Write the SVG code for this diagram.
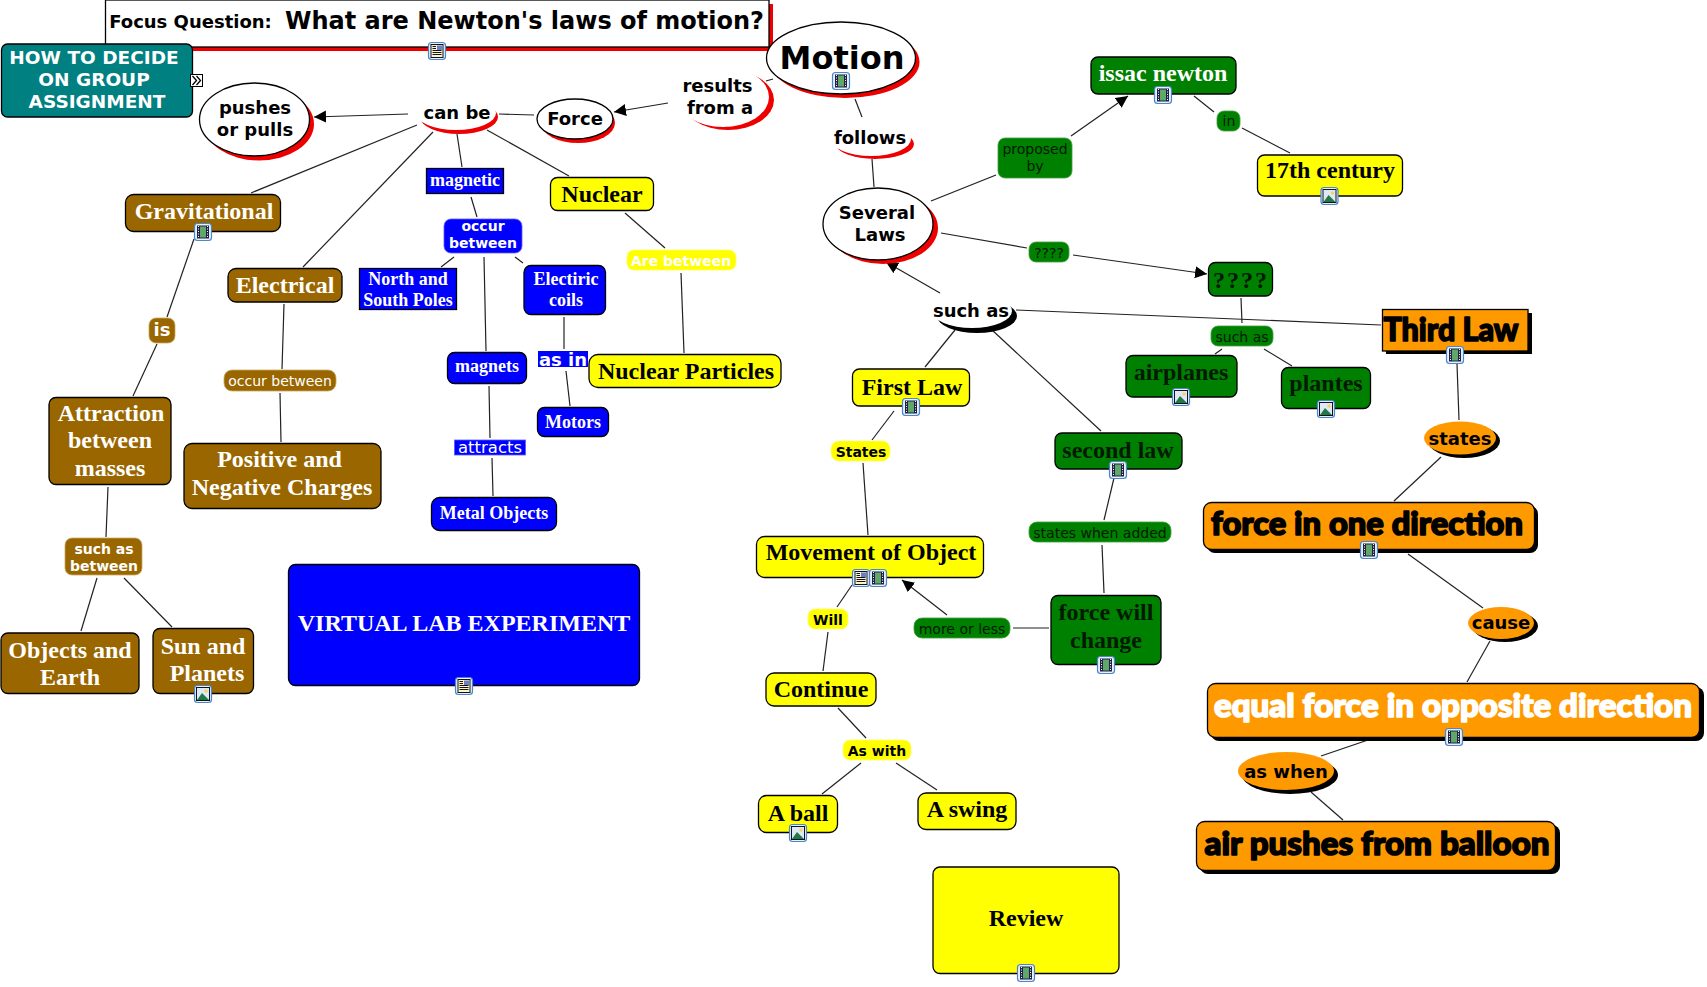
<svg xmlns="http://www.w3.org/2000/svg" width="1707" height="987" viewBox="0 0 1707 987">
<style>
text{text-anchor:middle}
.se{font-family:"Liberation Serif","Times New Roman",serif;font-weight:700}
.sa{font-family:"DejaVu Sans",sans-serif;font-weight:700}
.re{font-family:"DejaVu Sans",sans-serif;font-weight:400}
.fat{font-family:"Lato","DejaVu Sans",sans-serif;font-weight:900;stroke-width:1.6px;stroke-linejoin:round}
.w{fill:#fff}.k{fill:#000}
.dg{fill:#001a00}
.wf{stroke:#fff}.kf{stroke:#000}
.b{stroke:#000;stroke-width:1.3}
.brown{fill:#996600}.green{fill:#008000}.blue{fill:#0000ff}.yellow{fill:#ffff00}.orange{fill:#ff9900}.teal{fill:#008080}
.red{fill:#ee0000}.blk{fill:#000}.white{fill:#fff}
#connectors line{stroke:#222;stroke-width:1.2;fill:none}
.lb{stroke:#c9a860;stroke-width:.8}.lg{stroke:#3fa03f;stroke-width:.8}.ly{stroke:#ffff66;stroke-width:.8}.lbl{stroke:#5a5aff;stroke-width:.8}
</style>
<defs>
<marker id="arr" markerUnits="userSpaceOnUse" markerWidth="14" markerHeight="14" refX="12" refY="6" orient="auto"><path d="M0 0L12 6L0 12z" fill="#000"/></marker>
<g id="frame"><rect x="-8.500" y="-8.500" width="17" height="17" rx="3" fill="#e8f0fa" stroke="#4a86c8" stroke-width="1.200"/></g>
<g id="film"><use href="#frame"/><rect x="-6" y="-6.500" width="12" height="13" fill="#20204a"/><rect x="-3" y="-5.500" width="6" height="11" fill="#5fa868"/><path d="M-4.500 -6v12M4.500 -6v12" stroke="#fff" stroke-width="1" stroke-dasharray="1 1.500"/></g>
<g id="pic"><use href="#frame"/><rect x="-6.500" y="-6.500" width="13" height="13" fill="#dfe9f5" stroke="#112" stroke-width="1"/><circle cx="3" cy="-3" r="1.800" fill="#f4d35e"/><path d="M-6 6L-1 -1L6 6z" fill="#1f7a45"/></g>
<g id="doc"><use href="#frame"/><rect x="-6" y="-6.500" width="12" height="13" fill="#fff6c8" stroke="#112" stroke-width="1"/><rect x="0" y="-5.500" width="5" height="4.500" fill="#6a7fc8"/><path d="M-4.500 -4.500h3.500M-4.500 -2.500h3.500M-4.500 -.5h9M-4.500 1.500h9M-4.500 3.500h9" stroke="#112" stroke-width="1"/></g>
</defs>
<rect width="1707" height="987" fill="#fff"/>

<g id="connectors">
<line x1="408" y1="114" x2="314" y2="117" marker-end="url(#arr)"/>
<line x1="534" y1="115" x2="499" y2="114"/>
<line x1="668" y1="103" x2="614" y2="112" marker-end="url(#arr)"/>
<line x1="773" y1="79" x2="766" y2="81"/>
<line x1="855" y1="99" x2="862" y2="117"/>
<line x1="872" y1="159" x2="874" y2="187"/>
<line x1="931" y1="201" x2="996" y2="175"/>
<line x1="1071" y1="136" x2="1128" y2="96" marker-end="url(#arr)"/>
<line x1="1194" y1="96" x2="1214" y2="112"/>
<line x1="1242" y1="128" x2="1290" y2="153"/>
<line x1="941" y1="233" x2="1027" y2="248"/>
<line x1="1073" y1="255" x2="1207" y2="274" marker-end="url(#arr)"/>
<line x1="940" y1="293" x2="886" y2="262" marker-end="url(#arr)"/>
<line x1="1016" y1="310" x2="1381" y2="325"/>
<line x1="1241" y1="298" x2="1242" y2="323"/>
<line x1="1222" y1="349" x2="1215" y2="354"/>
<line x1="1264" y1="349" x2="1292" y2="366"/>
<line x1="1457" y1="364" x2="1459" y2="420"/>
<line x1="1441" y1="457" x2="1394" y2="501"/>
<line x1="1408" y1="554" x2="1483" y2="608"/>
<line x1="1490" y1="641" x2="1467" y2="682"/>
<line x1="1368" y1="740" x2="1321" y2="756"/>
<line x1="1311" y1="792" x2="1343" y2="820"/>
<line x1="417" y1="125" x2="251" y2="193"/>
<line x1="433" y1="132" x2="303" y2="267"/>
<line x1="457" y1="134" x2="462" y2="167"/>
<line x1="487" y1="130" x2="569" y2="176"/>
<line x1="471" y1="197" x2="477" y2="217"/>
<line x1="454" y1="257" x2="441" y2="267"/>
<line x1="515" y1="257" x2="523" y2="263"/>
<line x1="484" y1="257" x2="486" y2="351"/>
<line x1="564" y1="317" x2="564" y2="349"/>
<line x1="566" y1="371" x2="570" y2="406"/>
<line x1="489" y1="386" x2="490" y2="438"/>
<line x1="492" y1="458" x2="493" y2="496"/>
<line x1="625" y1="213" x2="665" y2="248"/>
<line x1="681" y1="273" x2="684" y2="353"/>
<line x1="194" y1="239" x2="167" y2="317"/>
<line x1="157" y1="344" x2="133" y2="396"/>
<line x1="284" y1="304" x2="282" y2="369"/>
<line x1="280" y1="393" x2="281" y2="442"/>
<line x1="108" y1="487" x2="106" y2="537"/>
<line x1="97" y1="578" x2="81" y2="631"/>
<line x1="124" y1="578" x2="172" y2="627"/>
<line x1="955" y1="330" x2="925" y2="367"/>
<line x1="992" y1="330" x2="1101" y2="431"/>
<line x1="894" y1="411" x2="872" y2="440"/>
<line x1="863" y1="463" x2="868" y2="535"/>
<line x1="852" y1="585" x2="837" y2="607"/>
<line x1="828" y1="632" x2="823" y2="671"/>
<line x1="838" y1="708" x2="866" y2="738"/>
<line x1="861" y1="763" x2="822" y2="794"/>
<line x1="896" y1="763" x2="937" y2="790"/>
<line x1="1049" y1="628" x2="1013" y2="628"/>
<line x1="947" y1="615" x2="902" y2="580" marker-end="url(#arr)"/>
<line x1="1114" y1="478" x2="1104" y2="520"/>
<line x1="1102" y1="545" x2="1104" y2="593"/>
</g>

<g id="focus"><rect x="109" y="4" width="664" height="47" class="red"/><rect x="105.500" y="0" width="663.500" height="47" class="white b"/><text x="190.500" y="28" class="sa" font-size="18">Focus Question:</text><text x="524.500" y="29" class="sa" font-size="24">What are Newton's laws of motion?</text><use href="#doc" x="437" y="51"/></g>
<g id="group-assignment"><rect x="1.500" y="44" width="191" height="73" rx="6" class="teal b"/><g class="sa w" font-size="18.500"><text x="94" y="64">HOW TO DECIDE</text><text x="94" y="86">ON GROUP</text><text x="97" y="108">ASSIGNMENT</text></g><rect x="190.500" y="74.500" width="12" height="12" class="white" stroke="#000"/><path d="M192.500 76l4 4.500l-4 4.500M196.500 76l4 4.500l-4 4.500" fill="none" stroke="#000" stroke-width="1.300"/></g>
<g id="results"><ellipse cx="728" cy="100" rx="46" ry="30" class="red"/><ellipse cx="723" cy="97" rx="46" ry="30" class="white"/><text x="717.500" y="92" class="sa k" font-size="18">results</text><text x="720" y="114" class="sa k" font-size="18">from a</text></g>
<g id="motion"><ellipse cx="845" cy="62" rx="74.500" ry="36" class="red"/><ellipse cx="841" cy="58" rx="74.500" ry="36" class="white b"/><text x="842" y="68.500" class="sa k" font-size="32">Motion</text><use href="#film" x="841" y="81"/></g>
<g id="pushes"><ellipse cx="259" cy="124" rx="55" ry="36.500" class="red"/><ellipse cx="254.500" cy="119.500" rx="55" ry="36.500" class="white b"/><text x="255" y="114" class="sa k" font-size="18">pushes</text><text x="255" y="136" class="sa k" font-size="18">or pulls</text></g>
<g id="canbe"><ellipse cx="459" cy="117" rx="39" ry="17" class="red"/><ellipse cx="456" cy="113" rx="40" ry="17" class="white"/><text x="457" y="119" class="sa k" font-size="18">can be</text></g>
<g id="force"><ellipse cx="578" cy="123" rx="37" ry="20" class="red"/><ellipse cx="575" cy="119" rx="38" ry="20" class="white b"/><text x="575" y="125" class="sa k" font-size="18">Force</text></g>
<g id="follows"><ellipse cx="875" cy="144" rx="39" ry="15" class="red"/><ellipse cx="871" cy="139" rx="40" ry="17" class="white"/><text x="870" y="144" class="sa k" font-size="18">follows</text></g>
<g id="several"><ellipse cx="883" cy="228" rx="55" ry="36" class="red"/><ellipse cx="878" cy="224" rx="55" ry="36" class="white b"/><text x="877" y="219" class="sa k" font-size="18">Several</text><text x="880" y="241" class="sa k" font-size="18">Laws</text></g>
<g id="suchas"><ellipse cx="977" cy="316" rx="40" ry="17" class="blk"/><ellipse cx="972" cy="311" rx="40" ry="17" class="white"/><text x="971" y="317" class="sa k" font-size="18">such as</text></g>

<g id="gravitational"><rect x="125.500" y="194.500" width="155" height="37" rx="8" class="brown b"/><text x="204" y="219" class="se w" font-size="24">Gravitational</text><use href="#film" x="203" y="232"/></g>
<g id="electrical"><rect x="228" y="268.500" width="114" height="33.500" rx="8" class="brown b"/><text x="285" y="293" class="se w" font-size="24">Electrical</text></g>
<g id="is"><rect x="149" y="318" width="26" height="25" rx="7" class="brown lb"/><text x="162" y="336" class="sa w" font-size="18">is</text></g>
<g id="attraction"><rect x="49" y="397.500" width="122" height="87" rx="7" class="brown b"/><g class="se w" font-size="24"><text x="111" y="421">Attraction</text><text x="110" y="448">between</text><text x="110" y="476">masses</text></g></g>
<g id="occur-b"><rect x="224" y="370" width="112" height="21" rx="8" class="brown lb"/><text x="280" y="386" class="re w" font-size="14">occur between</text></g>
<g id="positive"><rect x="184" y="443.500" width="197" height="65" rx="8" class="brown b"/><g class="se w" font-size="24"><text x="279.500" y="467">Positive and</text><text x="282" y="495">Negative Charges</text></g></g>
<g id="suchbetween"><rect x="65" y="538" width="77" height="37" rx="7" class="brown lb"/><g class="sa w" font-size="14"><text x="104" y="554">such as</text><text x="104" y="571">between</text></g></g>
<g id="objects"><rect x="1" y="633" width="138" height="60.500" rx="7" class="brown b"/><g class="se w" font-size="24"><text x="70" y="658">Objects and</text><text x="70" y="685">Earth</text></g></g>
<g id="sun"><rect x="153" y="628.500" width="100.500" height="65" rx="7" class="brown b"/><g class="se w" font-size="24"><text x="203" y="654">Sun and</text><text x="207" y="681">Planets</text></g><use href="#pic" x="203" y="694"/></g>

<g id="magnetic"><rect x="426.500" y="168.500" width="77" height="25" class="blue b"/><text x="465" y="186" class="se w" font-size="18">magnetic</text></g>
<g id="occur-m"><rect x="444" y="219" width="78" height="34" rx="7" class="blue lbl"/><g class="sa w" font-size="14"><text x="483" y="231">occur</text><text x="483" y="248">between</text></g></g>
<g id="north"><rect x="359.500" y="268.500" width="97" height="41" class="blue b"/><g class="se w" font-size="18"><text x="408" y="285">North and</text><text x="408" y="306">South Poles</text></g></g>
<g id="coils"><rect x="524" y="265.500" width="81.500" height="49" rx="7" class="blue b"/><g class="se w" font-size="18"><text x="566" y="285">Electiric</text><text x="566" y="306">coils</text></g></g>
<g id="magnets"><rect x="447.500" y="352.500" width="79" height="31" rx="7" class="blue b"/><text x="487" y="372" class="se w" font-size="18">magnets</text></g>
<g id="asin"><rect x="538" y="351" width="50" height="16" class="blue"/><text x="563" y="366" class="sa w" font-size="18">as in</text></g>
<g id="motors"><rect x="537.500" y="407.500" width="71" height="29" rx="7" class="blue b"/><text x="573" y="428" class="se w" font-size="18">Motors</text></g>
<g id="attracts"><rect x="454.500" y="440" width="71" height="15" class="blue lbl"/><text x="490" y="453" class="re w" font-size="16.500">attracts</text></g>
<g id="metal"><rect x="431.500" y="497.500" width="125" height="33" rx="8" class="blue b"/><text x="494" y="519" class="se w" font-size="18">Metal Objects</text></g>
<g id="virtual"><rect x="288.500" y="564.500" width="351" height="121" rx="7" class="blue b"/><text x="464" y="631" class="se w" font-size="24">VIRTUAL LAB EXPERIMENT</text><use href="#doc" x="464" y="686"/></g>

<g id="nuclear"><rect x="550.500" y="177.500" width="103" height="33" rx="7" class="yellow b"/><text x="602" y="202" class="se k" font-size="24">Nuclear</text></g>
<g id="between-n"><rect x="627" y="250" width="109" height="20" rx="7" class="yellow ly"/><text x="681" y="266" class="sa w" font-size="14">Are between</text></g>
<g id="particles"><rect x="589" y="354.500" width="192" height="33" rx="9" class="yellow b"/><text x="686" y="379" class="se k" font-size="24">Nuclear Particles</text></g>

<g id="issac"><rect x="1091" y="57" width="145" height="37" rx="7" class="green b"/><text x="1163" y="81" class="se w" font-size="24">issac newton</text><use href="#film" x="1163" y="95"/></g>
<g id="proposed"><rect x="998" y="138" width="74" height="40" rx="7" class="green lg"/><g class="re dg" font-size="14"><text x="1035" y="154">proposed</text><text x="1035" y="171">by</text></g></g>
<g id="in"><rect x="1217" y="111" width="23" height="20" rx="7" class="green lg"/><text x="1229" y="126" class="re dg" font-size="14">in</text></g>
<g id="century"><rect x="1257.500" y="155" width="145" height="41" rx="7" class="yellow b"/><text x="1330" y="178" class="se k" font-size="24">17th century</text><use href="#pic" x="1329.500" y="196"/></g>
<g id="q1"><rect x="1029" y="242" width="40" height="20" rx="7" class="green lg"/><text x="1049" y="258" class="re dg" font-size="14">????</text></g>
<g id="q2"><rect x="1208.500" y="262.500" width="64" height="33.500" rx="7" class="green b"/><text x="1241" y="288" class="se dg" font-size="24" letter-spacing="2">????</text></g>
<g id="suchas-g"><rect x="1211" y="326" width="62" height="20" rx="7" class="green lg"/><text x="1242" y="342" class="re dg" font-size="14">such as</text></g>
<g id="airplanes"><rect x="1126" y="355.500" width="111" height="41.500" rx="7" class="green b"/><text x="1181" y="380" class="se dg" font-size="24">airplanes</text><use href="#pic" x="1181" y="397"/></g>
<g id="plantes"><rect x="1281.500" y="367.500" width="89" height="41" rx="7" class="green b"/><text x="1326" y="391" class="se dg" font-size="24">plantes</text><use href="#pic" x="1326" y="409"/></g>
<g id="second"><rect x="1055" y="433" width="127" height="36" rx="7" class="green b"/><text x="1118" y="458" class="se dg" font-size="24">second law</text><use href="#film" x="1118" y="470"/></g>
<g id="stateswhen"><rect x="1029" y="522" width="142" height="20" rx="8" class="green lg"/><text x="1100" y="538" class="re dg" font-size="14">states when added</text></g>
<g id="forcewill"><rect x="1051" y="595.500" width="110" height="69" rx="7" class="green b"/><g class="se dg" font-size="24"><text x="1106" y="620">force will</text><text x="1106" y="648">change</text></g><use href="#film" x="1106" y="665"/></g>
<g id="moreless"><rect x="914" y="618" width="96" height="20" rx="8" class="green lg"/><text x="962" y="634" class="re dg" font-size="14">more or less</text></g>

<g id="firstlaw"><rect x="852.500" y="369" width="117" height="37" rx="7" class="yellow b"/><text x="912" y="395" class="se k" font-size="24">First Law</text><use href="#film" x="911" y="407"/></g>
<g id="states-y"><rect x="831" y="441" width="59" height="20" rx="8" class="yellow ly"/><text x="861" y="456.500" class="sa k" font-size="14">States</text></g>
<g id="movement"><rect x="756.500" y="536.500" width="227" height="41" rx="8" class="yellow b"/><text x="871" y="560" class="se k" font-size="24">Movement of Object</text><use href="#doc" x="861" y="578"/><use href="#film" x="878" y="578"/></g>
<g id="will"><rect x="808" y="609" width="40" height="20" rx="7" class="yellow ly"/><text x="828" y="625" class="sa k" font-size="14">Will</text></g>
<g id="continue"><rect x="766" y="673" width="110" height="33" rx="8" class="yellow b"/><text x="821" y="697" class="se k" font-size="24">Continue</text></g>
<g id="aswith"><rect x="843" y="740" width="68" height="20" rx="7" class="yellow ly"/><text x="877" y="756" class="sa k" font-size="14">As with</text></g>
<g id="ball"><rect x="758.500" y="795.500" width="79" height="37" rx="8" class="yellow b"/><text x="798" y="821" class="se k" font-size="24">A ball</text><use href="#pic" x="798" y="833"/></g>
<g id="swing"><rect x="918" y="793" width="98" height="36.500" rx="8" class="yellow b"/><text x="967" y="817" class="se k" font-size="24">A swing</text></g>
<g id="review"><rect x="933" y="867" width="186" height="106.500" rx="7" class="yellow b"/><text x="1026" y="926" class="se k" font-size="24">Review</text><use href="#film" x="1026" y="973"/></g>

<g id="thirdlaw"><rect x="1386" y="313" width="146" height="41" class="blk"/><rect x="1382.500" y="309.500" width="145.500" height="41.500" class="orange b"/><text x="1451" y="341" class="fat k kf" font-size="33" textLength="135" lengthAdjust="spacingAndGlyphs">Third Law</text><use href="#film" x="1455" y="355"/></g>
<g id="states"><ellipse cx="1464" cy="441" rx="36" ry="17" class="blk"/><ellipse cx="1460" cy="438" rx="36" ry="16.500" class="orange"/><text x="1460" y="445" class="sa k" font-size="18">states</text></g>
<g id="force1"><rect x="1207" y="506" width="331" height="47" rx="8" class="blk"/><rect x="1203.500" y="502.500" width="331" height="47" rx="8" class="orange b"/><text x="1367" y="535" class="fat k kf" font-size="32" textLength="312" lengthAdjust="spacingAndGlyphs">force in one direction</text><use href="#film" x="1369" y="550"/></g>
<g id="cause"><ellipse cx="1505" cy="626" rx="33" ry="16" class="blk"/><ellipse cx="1501" cy="623" rx="33" ry="16" class="orange"/><text x="1501" y="629" class="sa k" font-size="18">cause</text></g>
<g id="equal"><rect x="1211" y="687" width="493" height="54" rx="8" class="blk"/><rect x="1207.500" y="683.500" width="492" height="54" rx="8" class="orange b"/><text x="1453" y="717" class="fat w wf" font-size="32" textLength="478" lengthAdjust="spacingAndGlyphs">equal force in opposite direction</text><use href="#film" x="1454" y="737"/></g>
<g id="aswhen"><ellipse cx="1290" cy="775" rx="48" ry="19" class="blk"/><ellipse cx="1286" cy="771" rx="48" ry="19" class="orange"/><text x="1286" y="778" class="sa k" font-size="18">as when</text></g>
<g id="air"><rect x="1200" y="825" width="360" height="49" rx="8" class="blk"/><rect x="1196.500" y="821.500" width="359" height="49" rx="8" class="orange b"/><text x="1377" y="855" class="fat k kf" font-size="32" textLength="345" lengthAdjust="spacingAndGlyphs">air pushes from balloon</text></g>
</svg>
